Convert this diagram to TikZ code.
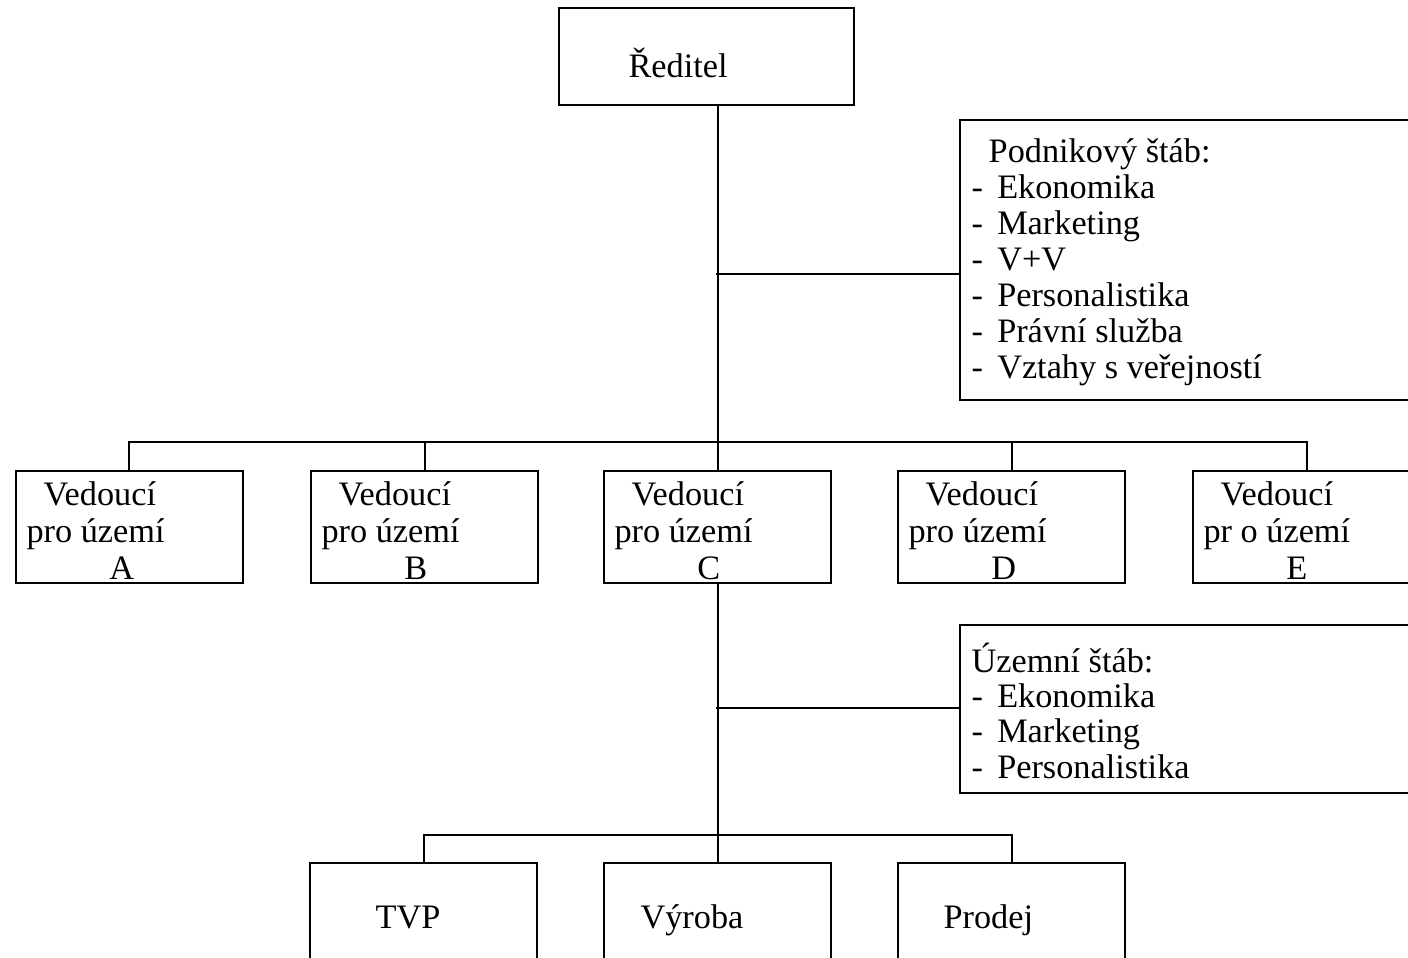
\documentclass[tikz,border=0pt]{standalone}
\usepackage{fontspec}
\setmainfont{Liberation Serif}
\usetikzlibrary{positioning}

\newcommand\dashitem{-\hspace{5pt}}

\tikzset{
  orgbox/.style={draw, line width=0.7pt, inner sep=0pt, anchor=north west},
  unit/.style={orgbox, minimum width=79.45pt, minimum height=39.2pt},
  lbl/.style={inner sep=0pt, anchor=north west, align=left},
  conn/.style={line width=0.7pt}
}

\begin{document}
\begin{tikzpicture}[x=0.35pt, y=-0.35pt, font=\fontsize{12pt}{12.95pt}\selectfont]
\useasboundingbox (0,0) rectangle (1408,958);
\clip (0,0) rectangle (1408,958);

% top
\node[orgbox, minimum width=103.25pt, minimum height=33.95pt] (boss) at (558,7) {};
\node[lbl] (boss-t) at (628,47) {\strut Ředitel};

% company staff
\node[orgbox, minimum width=165pt, minimum height=98pt] (staff) at (959,119) {};
\node[lbl, font=\fontsize{12pt}{12.6pt}\selectfont] (staff-t) at (971,136.8)
  {\strut\ \ Podnikový štáb:\\\dashitem Ekonomika\\\dashitem Marketing\\\dashitem V+V\\
   \dashitem Personalistika\\\dashitem Právní služba\\\dashitem Vztahy s veřejností};

% territory heads
\foreach \n/\x/\pro in {A/15/pro,B/310/pro,C/603/pro,D/897/pro,E/1192/pr o}{
  \node[unit] (\n) at (\x,470) {};
  \node[lbl] (\n-t) at (\x+11,478.6) {\strut\ \ Vedoucí\\\pro\ území\\\hspace*{29pt}\n};
}

% territory staff
\node[orgbox, minimum width=165pt, minimum height=58.8pt] (terr) at (959,624) {};
\node[lbl, font=\fontsize{12pt}{12.37pt}\selectfont] (terr-t) at (971,642.3)
  {\strut Územní štáb:\\\dashitem Ekonomika\\\dashitem Marketing\\\dashitem Personalistika};

% departments of C
\node[unit] (tvp) at (309,862) {};
\node[unit] (prod) at (603,862) {};
\node[unit] (sale) at (897,862) {};
\node[lbl] (tvp-t) at (375,902) {\strut TVP};
\node[lbl] (prod-t) at (640,902) {\strut Výroba};
\node[lbl] (sale-t) at (943,902) {\strut Prodej};

% lines
\coordinate (bus) at (0,442);
\coordinate (lowbus) at (0,835);
\coordinate (j1) at (716,274);
\coordinate (j2) at (716,708);
\draw[conn] (C.north) -- (C.north |- boss.south);
\draw[conn] (A.north) -- (A.north |- bus) -- (E.north |- bus) -- (E.north);
\foreach \n in {B,C,D} \draw[conn] (\n.north) -- (\n.north |- bus);
\draw[conn] (j1) -- (j1 -| staff.west);
\draw[conn] (C.south) -- (C.south |- lowbus);
\draw[conn] (j2) -- (j2 -| terr.west);
\draw[conn] (tvp.north) -- (tvp.north |- lowbus) -- (sale.north |- lowbus) -- (sale.north);
\draw[conn] (prod.north) -- (prod.north |- lowbus);
\end{tikzpicture}
\end{document}
